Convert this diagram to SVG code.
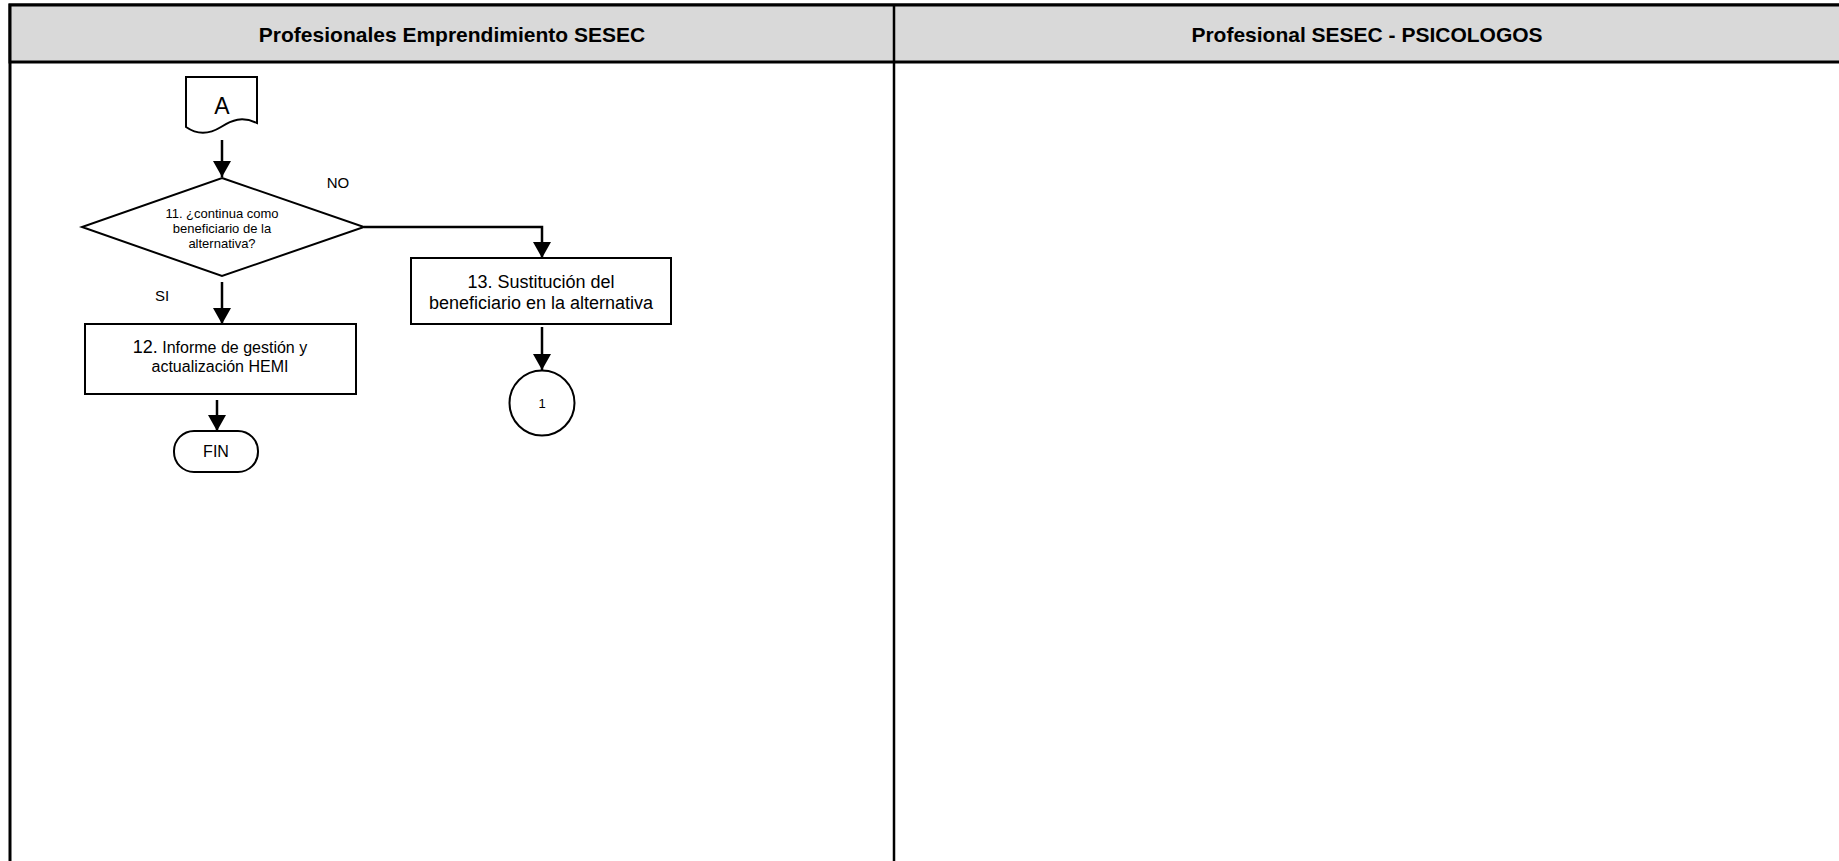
<svg xmlns="http://www.w3.org/2000/svg" width="1839" height="861" viewBox="0 0 1839 861">
<style>
.lane{fill:#fff;stroke:#000;stroke-width:3}
.hdr{fill:#d9d9d9;stroke:#000;stroke-width:3}
.ht{font-family:"Liberation Sans",Arial,sans-serif;font-weight:bold;font-size:21px;text-anchor:middle;fill:#000}
.shape{fill:#fff;stroke:#000;stroke-width:2}
.t{font-family:"Liberation Sans",Arial,sans-serif;text-anchor:middle;fill:#000}
.conn{fill:none;stroke:#000;stroke-width:2.5}
</style>
<defs>
<marker id="arr" markerUnits="userSpaceOnUse" markerWidth="18" markerHeight="18" refX="16" refY="9" orient="auto">
<path d="M0,0 L16,9 L0,18 Z" fill="#000"/>
</marker>
</defs>
<rect width="1839" height="861" fill="#fff"/>
<g id="lanes">
<rect class="lane" x="10" y="5" width="1840" height="870"/>
<rect class="hdr" x="10" y="5" width="1840" height="57"/>
<line x1="894" y1="5" x2="894" y2="875" stroke="#000" stroke-width="2.5"/>
<text class="ht" x="452" y="42">Profesionales Emprendimiento SESEC</text>
<text class="ht" x="1367" y="42">Profesional SESEC - PSICOLOGOS</text>
</g>
<g id="connectors">
<line class="conn" x1="222" y1="140" x2="222" y2="177" marker-end="url(#arr)"/>
<polyline class="conn" points="364,227 542,227 542,258" marker-end="url(#arr)"/>
<line class="conn" x1="222" y1="282" x2="222" y2="324" marker-end="url(#arr)"/>
<line class="conn" x1="542" y1="327" x2="542" y2="370" marker-end="url(#arr)"/>
<line class="conn" x1="217" y1="400" x2="217" y2="431" marker-end="url(#arr)"/>
<text class="t" x="338" y="188" font-size="15">NO</text>
<text class="t" x="162" y="301" font-size="15">SI</text>
</g>
<g id="nodeA">
<path class="shape" d="M186,77 L257,77 L257,123 C242,116 232,120 221,127 C208,135 196,134 186,127 Z"/>
<text class="t" x="222" y="114" font-size="23">A</text>
</g>
<g id="node11">
<polygon class="shape" points="222,178 364,227 222,276 82,227"/>
<text class="t" x="222" y="218" font-size="13">11. ¿continua como</text>
<text class="t" x="222" y="233" font-size="13">beneficiario de la</text>
<text class="t" x="222" y="248" font-size="13">alternativa?</text>
</g>
<g id="node13">
<rect class="shape" x="411" y="258" width="260" height="66"/>
<text class="t" x="541" y="288" font-size="18">13. Sustitución del</text>
<text class="t" x="541" y="309" font-size="18">beneficiario en la alternativa</text>
</g>
<g id="node1">
<circle class="shape" cx="542" cy="403" r="32.5"/>
<text class="t" x="542" y="408" font-size="13">1</text>
</g>
<g id="node12">
<rect class="shape" x="85" y="324" width="271" height="70"/>
<text class="t" x="220" y="353" font-size="16"><tspan font-size="18">12.</tspan> Informe de gestión y</text>
<text class="t" x="220" y="372" font-size="16">actualización HEMI</text>
</g>
<g id="nodeFIN">
<rect class="shape" x="174" y="431" width="84" height="41" rx="20" ry="20"/>
<text class="t" x="216" y="457" font-size="16">FIN</text>
</g>
</svg>
